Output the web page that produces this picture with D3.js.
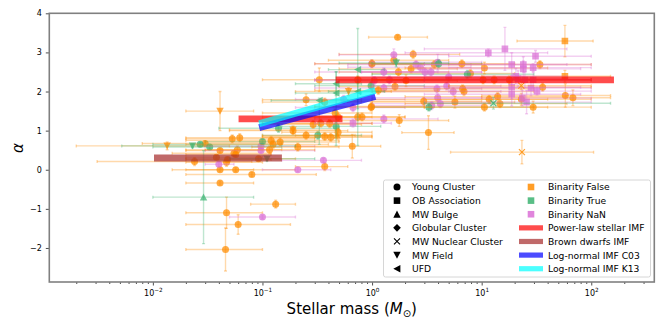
<!DOCTYPE html>
<html>
<head>
<meta charset="utf-8">
<script src="https://cdn.jsdelivr.net/npm/d3@7"></script>
<style>
  body { margin: 0; background: #fff; }
  svg text { font-family: "DejaVu Sans", sans-serif; }
</style>
</head>
<body>
<div id="container"></div>
<script>
// each row: [mass, alpha, mass low, mass high, alpha err (or [minus, plus]), binarity]
var youngCluster = [
  [0.041,-0.34,0.020,0.083,0.05,"F"], [0.047,-1.10,0.020,0.10,0.40,"F"], [0.060,-1.40,0.020,0.18,0.25,"F"],
  [0.046,-2.04,0.020,0.10,0.55,"F"], [0.132,-0.88,0.078,0.20,0.10,"F"], [0.080,-0.12,0.020,0.31,0.05,"F"],
  [0.024,0.21,0.0031,0.08,0.10,"F"], [0.041,0.00,0.020,0.083,0.05,"F"], [0.057,0.00,0.015,0.20,0.05,"F"],
  [0.038,0.32,0.020,0.10,0.05,"F"], [0.057,0.39,0.020,0.12,0.05,"F"], [0.092,0.28,0.020,0.20,0.05,"F"],
  [0.047,0.19,0.020,0.10,0.10,"F"], [0.37,0.08,0.20,0.60,0.10,"F"], [0.053,0.79,0.020,0.30,0.10,"F"],
  [0.062,0.82,0.020,0.30,0.10,"F"], [0.030,0.67,0.008,0.15,0.05,"F"], [0.041,0.49,0.020,0.10,0.05,"F"],
  [0.059,0.51,0.020,0.15,0.10,"F"], [0.055,0.42,0.015,0.12,0.05,"F"], [0.048,0.26,0.020,0.12,0.05,"F"],
  [0.027,0.65,0.010,0.15,0.05,"T"], [0.033,0.58,0.010,0.15,0.05,"T"], [0.040,0.14,0.030,0.055,0.05,"N"],
  [0.100,-1.21,0.050,0.20,0.05,"N"], [0.21,0.00,0.10,0.42,0.05,"N"], [0.36,0.24,0.15,0.80,0.05,"N"],
  [0.097,0.60,0.030,0.30,0.05,"N"], [0.097,0.49,0.030,0.30,0.05,"N"], [0.10,0.72,0.030,0.30,0.05,"T"],
  [0.14,1.06,0.040,0.50,0.10,"T"], [0.32,0.88,0.10,0.80,0.10,"T"], [0.47,1.11,0.15,1.2,0.10,"T"],
  [0.33,2.30,0.10,0.80,0.30,"F"], [0.74,2.30,0.30,2.0,0.10,"F"], [0.25,1.79,0.10,0.80,0.15,"F"],
  [0.37,1.73,0.10,0.80,0.10,"F"], [0.99,1.62,0.30,3.0,0.10,"F"], [0.46,1.45,0.10,1.0,0.10,"F"],
  [0.49,1.35,0.10,1.0,0.10,"F"], [0.74,1.35,0.20,2.0,0.10,"F"], [0.81,1.35,0.30,2.0,0.10,"F"],
  [0.19,1.00,0.05,0.60,0.10,"F"], [0.25,0.88,0.10,0.70,0.10,"F"], [0.37,0.85,0.10,1.0,0.10,"F"],
  [0.42,0.83,0.10,1.0,0.10,"F"], [0.49,0.96,0.15,1.0,0.10,"F"], [0.29,1.16,0.10,0.80,0.10,"F"],
  [0.34,1.19,0.10,1.0,0.10,"F"], [0.41,1.18,0.10,1.0,0.10,"F"], [0.21,0.58,0.08,0.50,0.10,"F"],
  [0.66,0.60,0.20,1.2,0.30,"F"], [0.12,0.75,0.020,0.50,0.10,"F"], [0.125,0.65,0.020,0.40,0.10,"F"],
  [0.145,0.71,0.030,0.50,0.10,"F"], [0.116,0.51,0.030,0.30,0.10,"F"], [0.55,1.80,0.20,2.0,0.10,"N"],
  [0.67,1.59,0.20,2.0,0.10,"N"], [0.98,2.15,0.30,3.0,0.10,"T"], [0.99,2.71,0.30,3.0,0.10,"N"],
  [1.71,3.39,0.93,3.2,0.05,"F"], [2.37,2.95,0.50,6.3,0.10,"F"], [1.58,2.80,0.40,5.0,0.10,"F"],
  [1.00,2.71,0.30,3.0,0.10,"F"], [3.7,2.69,1.0,10,0.10,"F"], [2.27,2.58,0.50,6.0,0.10,"F"],
  [1.58,2.94,0.50,5.0,0.15,"N"], [2.52,2.69,0.60,8.0,0.10,"N"], [2.76,2.62,0.60,8.0,0.10,"N"],
  [3.97,2.75,1.0,10,0.20,"N"], [4.05,2.71,1.0,10,0.10,"T"], [6.6,2.71,1.0,20,0.10,"F"],
  [7.9,2.46,1.0,20,0.10,"F"], [7.4,2.44,1.0,30,0.10,"T"], [1.74,2.50,0.50,5.0,0.10,"F"],
  [3.04,2.50,0.80,10,0.10,"N"], [3.45,2.50,0.80,10,0.10,"N"], [1.28,2.50,0.30,4.0,0.10,"N"],
  [5.0,2.37,1.0,20,0.10,"N"], [2.04,2.28,0.50,6.0,0.15,"F"], [1.44,2.30,0.30,5.0,0.10,"N"],
  [1.05,2.28,0.30,3.0,0.10,"N"], [1.62,2.13,0.50,5.0,0.10,"F"], [1.28,2.09,0.30,4.0,0.10,"N"],
  [3.91,2.07,1.0,10,0.10,"N"], [4.8,2.14,1.0,15,0.10,"N"], [5.5,2.00,1.0,15,0.10,"N"],
  [6.7,2.07,1.0,30,0.10,"F"], [6.9,2.00,1.0,30,0.10,"F"], [3.97,1.84,1.0,10,0.10,"N"],
  [2.96,1.75,0.60,10,0.10,"F"], [5.7,1.73,1.0,20,0.15,"F"], [4.2,1.69,1.0,12,0.10,"N"],
  [3.5,1.64,1.0,10,0.10,"N"], [3.3,1.60,1.0,30,0.10,"T"], [1.28,1.30,0.30,4.0,0.10,"N"],
  [1.77,1.26,0.40,5.0,0.15,"F"], [3.27,0.95,1.87,5.6,0.43,"F"], [1.14,2.03,0.30,4.0,0.10,"F"],
  [0.98,1.60,0.30,3.0,0.10,"F"], [34,2.69,5,100,0.10,"F"], [10.6,2.60,2,40,0.15,"F"],
  [10.3,2.30,1,100,0.10,"F"], [13.0,2.30,1,100,0.10,"F"], [17.9,2.30,1,100,0.10,"F"],
  [36,2.11,5,100,0.10,"F"], [14,1.87,2,60,0.10,"F"], [11.7,1.80,1,40,0.10,"F"],
  [14.7,1.69,2,60,0.10,"F"], [10.6,1.60,1,40,0.10,"F"], [23,1.80,3,100,0.15,"F"],
  [29.5,1.60,3,100,0.15,"F"], [58,1.90,10,150,0.30,"F"], [68,1.84,10,150,0.20,"F"]
];
var obAssociation = [
  [57.5,3.29,21,104,0.40,"F"], [57.5,2.39,10,150,0.15,"F"], [16.3,3.09,3,60,0.55,"N"],
  [11.5,2.99,2,40,0.10,"N"], [31,2.90,5,100,0.15,"N"], [18.8,2.69,3,60,0.30,"N"],
  [24,2.69,3,100,0.20,"N"], [24,2.58,3,80,0.20,"N"], [29.5,2.61,5,100,0.10,"N"],
  [20.5,2.39,3,60,0.20,"N"], [21.5,2.33,3,60,0.20,"N"], [24.8,2.30,3,100,0.20,"N"],
  [29.5,2.30,3,100,0.20,"N"], [18.8,2.11,3,80,0.30,"N"], [28.2,2.09,5,100,0.20,"N"],
  [18.8,1.93,3,80,0.30,"N"], [32,2.01,5,100,0.10,"N"], [23.5,1.83,3,100,0.20,"N"],
  [25.7,1.73,3,100,0.30,"N"], [0.67,1.19,0.30,1.5,0.10,"N"]
];
var mwBulge = [
  [0.029,-0.70,0.010,0.083,1.19,"T"], [0.48,0.88,0.20,1.0,0.10,"F"]
];
var globularCluster = [];
var nuclearCluster = [
  [23,2.15,5,100,0.10,"F"], [23.3,0.45,5.2,105,0.30,"F"], [12.8,1.70,3,150,0.15,"T"]
];
var mwField = [
  [0.041,1.50,0.020,0.083,0.50,"F"], [0.0135,0.61,0.0020,0.05,0.10,"F"], [0.023,0.61,0.0052,0.20,0.05,"T"],
  [0.19,1.02,0.05,0.50,0.10,"F"], [0.61,2.00,0.20,1.5,0.10,"F"], [1.66,2.73,0.50,5.0,0.10,"T"],
  [0.11,0.28,0.05,0.30,0.05,"T"]
];
var ufd = [
  [0.47,2.20,0.20,0.80,0.30,"T"], [0.47,1.96,0.20,0.80,[1.34,0.55],"T"], [0.74,2.56,0.40,1.3,[1.0,1.05],"T"],
  [0.74,2.00,0.40,1.3,[1.38,0.30],"T"], [0.33,1.77,0.12,0.60,[1.12,0.06],"T"]
];

// IMF slopes: [mass from, mass to, alpha from, alpha to]
var powerLawImf = [[0.065,0.5,1.3,1.3], [0.5,150,2.3,2.3]];
var brownDwarfImf = [[0.011,0.14,0.3,0.3]];
var lognormalC03 = [[0.1,1.0,1.1,1.85]];
var lognormalK13 = [[0.1,1.0,1.2,2.0]];

var xTicks = [0.01, 0.1, 1, 10, 100];
var xTickExp = ["\u22122", "\u22121", "0", "1", "2"];
var yTicks = [-2, -1, 0, 1, 2, 3, 4];

var binColor = { F: "#ff8c00", T: "#3cb371", N: "#da70d6" };

var svg = d3.select("#container").append("svg")
  .attr("width", 664)
  .attr("height", 332);

var x = d3.scaleLog().domain([0.001135, 376]).range([49.3, 654.3]);
var y = d3.scaleLinear().domain([-2.87, 4]).range([282, 13.3]);

svg.append("clipPath").attr("id", "plotclip")
  .append("rect")
  .attr("x", 49.3).attr("y", 13.3)
  .attr("width", 605).attr("height", 268.7);

var plot = svg.append("g").attr("clip-path", "url(#plotclip)");

var shapes = {
  circle: "M3.5,0A3.5,3.5,0,1,1,-3.5,0A3.5,3.5,0,1,1,3.5,0Z",
  square: "M-3.3,-3.3H3.3V3.3H-3.3Z",
  up: "M0,-3.7L3.7,3.4L-3.7,3.4Z",
  diamond: "M0,-3.8L3.8,0L0,3.8L-3.8,0Z",
  cross: "M-3,-3L3,3M-3,3L3,-3",
  down: "M0,3.7L3.7,-3.4L-3.7,-3.4Z",
  left: "M-3.7,0L3.4,-3.7L3.4,3.7Z"
};

function drawSet(rows, shape) {
  var g = plot.selectAll(null).data(rows).enter().append("g");
  var err = g.append("g")
    .attr("stroke", function(d) { return binColor[d[5]]; })
    .attr("stroke-opacity", 0.33)
    .attr("stroke-width", 1.4);
  // mass range
  err.append("line")
    .attr("x1", function(d) { return x(d[2]); })
    .attr("x2", function(d) { return x(d[3]); })
    .attr("y1", function(d) { return y(d[1]); })
    .attr("y2", function(d) { return y(d[1]); });
  [2, 3].forEach(function(k) {
    err.append("line")
      .attr("x1", function(d) { return x(d[k]); })
      .attr("x2", function(d) { return x(d[k]); })
      .attr("y1", function(d) { return y(d[1]) - 1.5; })
      .attr("y2", function(d) { return y(d[1]) + 1.5; });
  });
  // alpha error
  function lo(d) { return Array.isArray(d[4]) ? d[1] - d[4][0] : d[1] - d[4]; }
  function hi(d) { return Array.isArray(d[4]) ? d[1] + d[4][1] : d[1] + d[4]; }
  err.append("line")
    .attr("x1", function(d) { return x(d[0]); })
    .attr("x2", function(d) { return x(d[0]); })
    .attr("y1", function(d) { return y(lo(d)); })
    .attr("y2", function(d) { return y(hi(d)); });
  [lo, hi].forEach(function(f) {
    err.append("line")
      .attr("x1", function(d) { return x(d[0]) - 1.5; })
      .attr("x2", function(d) { return x(d[0]) + 1.5; })
      .attr("y1", function(d) { return y(f(d)); })
      .attr("y2", function(d) { return y(f(d)); });
  });
  var m = g.append("path")
    .attr("d", shapes[shape])
    .attr("transform", function(d) { return "translate(" + x(d[0]) + "," + y(d[1]) + ")"; });
  if (shape == "cross") {
    m.attr("fill", "none")
      .attr("stroke", function(d) { return binColor[d[5]]; })
      .attr("stroke-width", 1.2)
      .attr("stroke-opacity", 0.8);
  } else {
    m.attr("fill", function(d) { return binColor[d[5]]; })
      .attr("fill-opacity", 0.72);
  }
}

drawSet(youngCluster, "circle");
drawSet(obAssociation, "square");
drawSet(mwBulge, "up");
drawSet(globularCluster, "diamond");
drawSet(nuclearCluster, "cross");
drawSet(mwField, "down");
drawSet(ufd, "left");

// IMF slope bands
function drawImf(segs, color) {
  plot.selectAll(null).data(segs).enter().append("line")
    .attr("x1", function(d) { return x(d[0]); })
    .attr("x2", function(d) { return x(d[1]); })
    .attr("y1", function(d) { return y(d[2]); })
    .attr("y2", function(d) { return y(d[3]); })
    .attr("stroke", color)
    .attr("stroke-opacity", 0.7)
    .attr("stroke-width", 6.8)
    .attr("stroke-linecap", "square");
}
drawImf(powerLawImf, "red");
drawImf(brownDwarfImf, "brown");
drawImf(lognormalC03, "blue");
drawImf(lognormalK13, "cyan");

// axes
var minorTicks = [];
for (var e = -3; e <= 2; e++) {
  for (var k = 2; k <= 9; k++) {
    var v = k * Math.pow(10, e);
    if (v > x.domain()[0] && v < x.domain()[1]) minorTicks.push(v);
  }
}

var gxMinor = svg.append("g")
  .attr("transform", "translate(0,282)")
  .call(d3.axisBottom(x).tickValues(minorTicks).tickSize(2).tickFormat(""));
gxMinor.select(".domain").remove();

var gx = svg.append("g")
  .attr("transform", "translate(0,282)")
  .call(d3.axisBottom(x).tickValues(xTicks).tickSize(3.5).tickPadding(4.5).tickFormat(""));
gx.select(".domain").remove();
gx.selectAll(".tick text")
  .attr("font-size", 8)
  .attr("fill", "#000")
  .each(function(d, i) {
    var t = d3.select(this);
    t.append("tspan").text("10");
    t.append("tspan").attr("dy", -3.9).attr("font-size", 5.7).text(xTickExp[i]);
  });

var gy = svg.append("g")
  .attr("transform", "translate(49.3,0)")
  .call(d3.axisLeft(y).tickValues(yTicks).tickSize(3.5).tickPadding(4)
    .tickFormat(function(d) { return d < 0 ? "\u2212" + (-d) : d; }));
gy.select(".domain").remove();
gy.selectAll(".tick text").attr("font-size", 8).attr("fill", "#000");

svg.selectAll(".tick line").attr("stroke", "#222").attr("stroke-width", 0.8);

svg.append("rect")
  .attr("x", 49.3).attr("y", 13.3)
  .attr("width", 605).attr("height", 268.7)
  .attr("fill", "none")
  .attr("stroke", "#808080")
  .attr("stroke-width", 1.6);

// axis titles
var xl = svg.append("text")
  .attr("x", 351.8).attr("y", 314.3)
  .attr("text-anchor", "middle")
  .attr("font-size", 15);
xl.append("tspan").text("Stellar mass (");
xl.append("tspan").attr("font-style", "italic").text("M");
xl.append("tspan").attr("font-size", 10).attr("dy", 3).text("\u2299");
xl.append("tspan").attr("dy", -3).text(")");

svg.append("text")
  .attr("transform", "translate(23,148) rotate(-90)")
  .attr("text-anchor", "middle")
  .attr("font-size", 15)
  .attr("font-style", "italic")
  .text("\u03b1");

// legend
var legend = svg.append("g");
legend.append("rect")
  .attr("x", 383.5).attr("y", 180)
  .attr("width", 267).attr("height", 97)
  .attr("rx", 2)
  .attr("fill", "#fff").attr("fill-opacity", 0.8)
  .attr("stroke", "#cccccc").attr("stroke-width", 0.8);

var shapeNames = ["Young Cluster", "OB Association", "MW Bulge", "Globular Cluster", "MW Nuclear Cluster", "MW Field", "UFD"];
var shapeKeys = ["circle", "square", "up", "diamond", "cross", "down", "left"];
var colorNames = ["Binarity False", "Binarity True", "Binarity NaN", "Power-law stellar IMF", "Brown dwarfs IMF", "Log-normal IMF C03", "Log-normal IMF K13"];
var colorKeys = ["#ff8c00", "#3cb371", "#da70d6", "red", "brown", "blue", "cyan"];

var rowY = function(i) { return 187 + i * 13.62; };

shapeKeys.forEach(function(s, i) {
  var p = legend.append("path")
    .attr("d", shapes[s])
    .attr("transform", "translate(397," + rowY(i) + ")");
  if (s == "cross") p.attr("fill", "none").attr("stroke", "#000").attr("stroke-width", 1.1);
  else p.attr("fill", "#000");
  legend.append("text")
    .attr("x", 412).attr("y", rowY(i) + 3.4)
    .attr("font-size", 9.2)
    .text(shapeNames[i]);
});

colorKeys.forEach(function(c, i) {
  if (i < 3) {
    legend.append("path")
      .attr("d", shapes.square)
      .attr("transform", "translate(531," + rowY(i) + ")")
      .attr("fill", c).attr("fill-opacity", 0.85);
  } else {
    legend.append("rect")
      .attr("x", 519).attr("y", rowY(i) - 2.6)
      .attr("width", 24).attr("height", 5.2)
      .attr("fill", c).attr("fill-opacity", 0.7);
  }
  legend.append("text")
    .attr("x", 548).attr("y", rowY(i) + 3.4)
    .attr("font-size", 9.2)
    .text(colorNames[i]);
});
</script>
</body>
</html>
